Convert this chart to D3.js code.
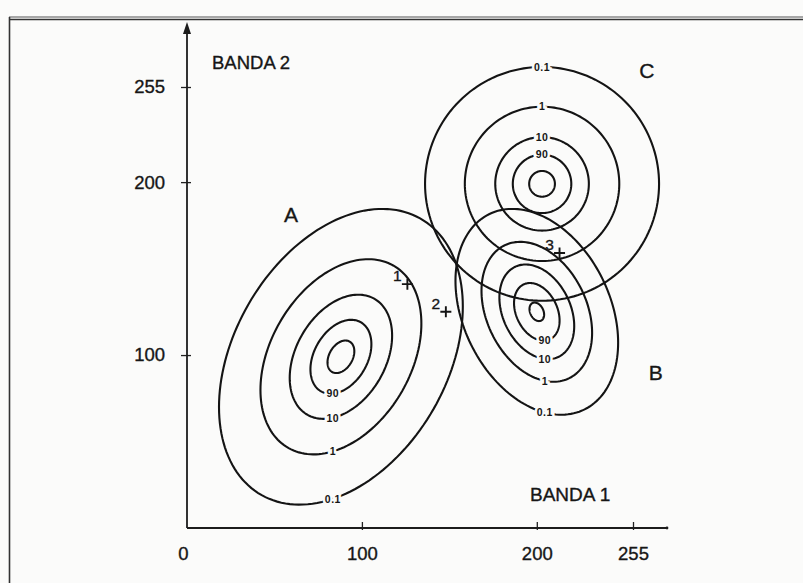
<!DOCTYPE html>
<html>
<head>
<meta charset="utf-8">
<script src="https://cdn.jsdelivr.net/npm/d3@7"></script>
<style>
  html, body { margin: 0; padding: 0; background: #fbfbfa; }
  svg { display: block; }
  text { font-family: "Liberation Sans", Arial, Helvetica, sans-serif; fill: #161616; }
  .bold-ish { stroke: #161616; stroke-width: 0.35px; }
</style>
</head>
<body>
<svg id="chart" width="803" height="583"></svg>
<script>
// ---------------- data ----------------
const classNames   = ["A", "B", "C"];
const classMeanX   = [88, 200, 203];       // BANDA 1
const classMeanY   = [99, 125, 199];       // BANDA 2
const outerSpreadX = [69.7, 46.5, 66.9];   // half-extent of the 0.1 contour along BANDA 1
const outerSpreadY = [85.5, 59.5, 67.6];   // half-extent of the 0.1 contour along BANDA 2
const classRho     = [0.34, -0.30, 0];     // correlation / tilt
const levelLabels  = ["0.1", "1", "10", "90", ""];
const levelScaleA  = [1, 0.66, 0.42, 0.25, 0.11];
const levelScaleB  = [1, 0.68, 0.46, 0.28, 0.09];
const levelScaleC  = [1, 0.66, 0.40, 0.25, 0.11];
const labelColumn  = [83.4, 204.6, 203];   // BANDA 1 value where ring labels sit

const pointIds = ["1", "2", "3"];
const pointX   = [126, 148, 213];
const pointY   = [141, 125, 159];

const xTickValues = [0, 100, 200, 255];
const yTickValues = [100, 200, 255];
const xAxisTitle = "BANDA 1";
const yAxisTitle = "BANDA 2";

// ---------------- layout ----------------
const layout = {
  x0: 187, x1: 633, y0: 528, y1: 87,
  xAxisEnd: 667, yAxisTop: 22,
  classLetterPos: [[59.4, 181.5], [268, 90.2], [262.9, 264.7]], // in data units
  labelSide: ["below", "below", "above"]
};

const svg = d3.select("#chart");
const x = d3.scaleLinear().domain([0, 255]).range([layout.x0, layout.x1]);
const y = d3.scaleLinear().domain([0, 255]).range([layout.y0, layout.y1]);

// page frame
svg.append("line").attr("x1", 9).attr("x2", 803).attr("y1", 17).attr("y2", 17)
  .attr("stroke", "#555").attr("stroke-width", 1.2);
svg.append("line").attr("x1", 9).attr("x2", 803).attr("y1", 19.5).attr("y2", 19.5)
  .attr("stroke", "#333").attr("stroke-width", 1.6);
svg.append("line").attr("x1", 9.5).attr("x2", 9.5).attr("y1", 17).attr("y2", 583)
  .attr("stroke", "#333").attr("stroke-width", 1.6);

// ---------------- axes ----------------
const xAxis = d3.axisBottom(x).tickValues(xTickValues).tickSizeInner(-7).tickSizeOuter(0).tickPadding(18.5);
const gx = svg.append("g").attr("transform", `translate(0,${layout.y0})`).call(xAxis);
gx.select(".domain").remove();
gx.selectAll(".tick line").attr("stroke", "#222").attr("stroke-width", 1.3)
  .attr("y2", -6).attr("y1", 2)
  .filter(d => d === 0).remove();
gx.selectAll(".tick text").attr("font-size", 18.5).attr("fill", "#161616").attr("class", "bold-ish")
  .attr("font-family", "Liberation Sans, Arial, sans-serif")
  .attr("dx", d => d === 0 ? -4 : 0);

const yAxis = d3.axisLeft(y).tickValues(yTickValues).tickSizeInner(6).tickSizeOuter(0).tickPadding(16);
const gy = svg.append("g").attr("transform", `translate(${layout.x0},0)`).call(yAxis);
gy.select(".domain").remove();
gy.selectAll(".tick line").attr("stroke", "#222").attr("stroke-width", 1.3).attr("x1", 4);
gy.selectAll(".tick text").attr("font-size", 18.5).attr("fill", "#161616").attr("class", "bold-ish")
  .attr("font-family", "Liberation Sans, Arial, sans-serif");

// axis lines
svg.append("line").attr("x1", layout.x0).attr("x2", layout.xAxisEnd)
  .attr("y1", layout.y0).attr("y2", layout.y0).attr("stroke", "#1c1c1c").attr("stroke-width", 1.8);
svg.append("circle").attr("cx", layout.xAxisEnd).attr("cy", layout.y0).attr("r", 1.4).attr("fill", "#1c1c1c");
svg.append("line").attr("x1", layout.x0).attr("x2", layout.x0)
  .attr("y1", layout.y0).attr("y2", layout.yAxisTop + 8).attr("stroke", "#1c1c1c").attr("stroke-width", 1.8);
svg.append("path")
  .attr("d", `M${layout.x0},${layout.yAxisTop} L${layout.x0 - 4},${layout.yAxisTop + 12} L${layout.x0 + 4},${layout.yAxisTop + 12} Z`)
  .attr("fill", "#1c1c1c");

svg.append("text").attr("x", 212).attr("y", 68.5).attr("font-size", 18.5).attr("class", "bold-ish").text(yAxisTitle);
svg.append("text").attr("x", 530).attr("y", 501).attr("font-size", 19).attr("class", "bold-ish").text(xAxisTitle);

// ---------------- contours ----------------
const levelScales = [levelScaleA, levelScaleB, levelScaleC];
const line = d3.line().x(d => x(d[0])).y(d => y(d[1])).curve(d3.curveLinearClosed);
const N = 160;

const gE = svg.append("g");
const gL = svg.append("g");

classNames.forEach((name, i) => {
  const mx = classMeanX[i], my = classMeanY[i];
  const sx = outerSpreadX[i], sy = outerSpreadY[i], r = classRho[i];
  // Cholesky of [[sx^2, r sx sy],[r sx sy, sy^2]]
  const l11 = sx, l21 = r * sy, l22 = sy * Math.sqrt(1 - r * r);
  levelScales[i].forEach((k, j) => {
    const pts = d3.range(N).map(n => {
      const t = 2 * Math.PI * n / N;
      return [mx + k * l11 * Math.cos(t), my + k * (l21 * Math.cos(t) + l22 * Math.sin(t))];
    });
    gE.append("path").attr("d", line(pts))
      .attr("fill", "none").attr("stroke", "#141414").attr("stroke-width", 2.1);

    const lab = levelLabels[j];
    if (lab) {
      const c = Math.max(-1, Math.min(1, (labelColumn[i] - mx) / (k * l11)));
      const s = (layout.labelSide[i] === "below" ? -1 : 1) * Math.sqrt(1 - c * c);
      const lx = mx + k * l11 * c, ly = my + k * (l21 * c + l22 * s);
      gL.append("text").attr("x", x(lx)).attr("y", y(ly)).attr("dy", "0.36em")
        .attr("text-anchor", "middle").attr("font-size", 10.5).attr("font-weight", "bold")
        .attr("letter-spacing", 0.5)
        .attr("stroke", "#fbfbfa").attr("stroke-width", 5).attr("paint-order", "stroke")
        .text(lab);
    }
  });
  const lp = layout.classLetterPos[i];
  svg.append("text").attr("x", x(lp[0])).attr("y", y(lp[1])).attr("dy", "0.36em")
    .attr("text-anchor", "middle").attr("font-size", 21).attr("class", "bold-ish").text(name);
});

// ---------------- sample points ----------------
const gp = svg.append("g");
pointIds.forEach((id, i) => {
  const px = x(pointX[i]), py = y(pointY[i]);
  gp.append("path").attr("d", `M${px - 5.5},${py} H${px + 5.5} M${px},${py - 5.5} V${py + 5.5}`)
    .attr("stroke", "#141414").attr("stroke-width", 1.9);
  gp.append("text").attr("x", px - 10).attr("y", py - 3).attr("font-size", 15.5)
    .attr("text-anchor", "middle").attr("class", "bold-ish").text(id);
});
</script>
</body>
</html>
